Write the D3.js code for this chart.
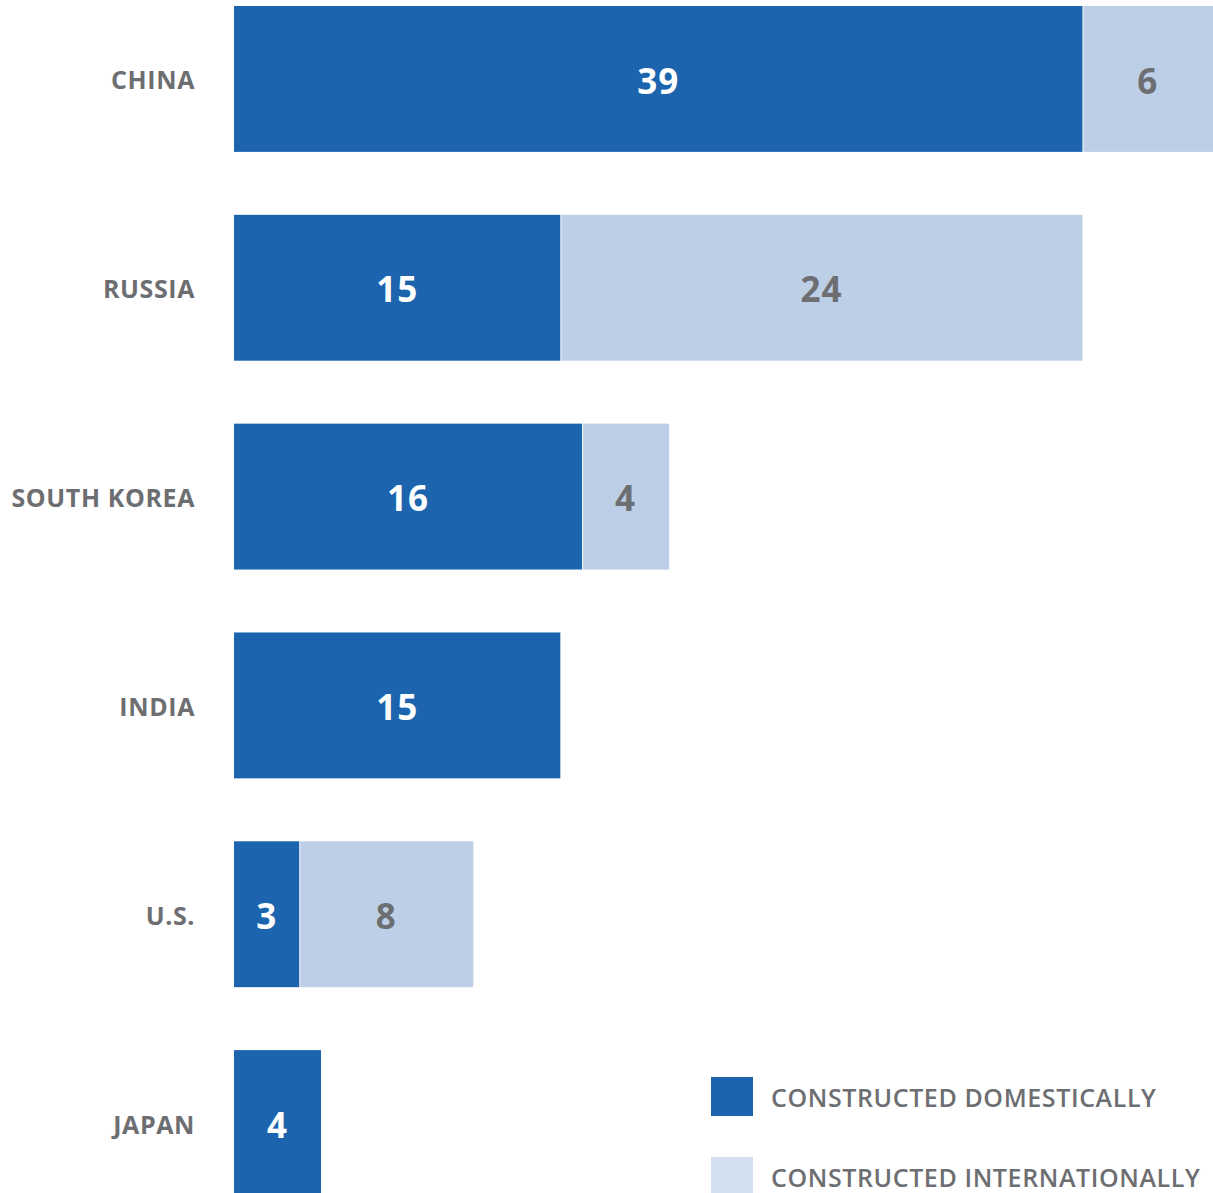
<!DOCTYPE html>
<html>
<head>
<meta charset="utf-8">
<script src="https://cdn.jsdelivr.net/npm/d3@7"></script>
<style>
  html, body { margin: 0; padding: 0; background: #ffffff; }
  svg { display: block; }
  text { font-family: "Open Sans", "Lato", sans-serif; }
</style>
</head>
<body>
<div id="chart"></div>
<script>
// Reactor counts by country, split by where they were built
const countries = ["CHINA", "RUSSIA", "SOUTH KOREA", "INDIA", "U.S.", "JAPAN"];
const domestic = [39, 15, 16, 15, 3, 4];
const international = [6, 24, 4, 0, 8, 0];
const legendLabels = ["CONSTRUCTED DOMESTICALLY", "CONSTRUCTED INTERNATIONALLY"];

const width = 1213, height = 1193;
const colDom = "#1c64ae", colIntl = "#bccfe6", colIntlKey = "#d3e0f0";
const grey = "#6d6e71";

const svg = d3.select("#chart").append("svg")
  .attr("width", width).attr("height", height);

const x = d3.scaleLinear().domain([0, 45]).range([234, 1213]);
const y = d3.scaleBand().domain(countries).range([6, 1196]).paddingInner(0.3014).paddingOuter(0);

const rows = countries.map((c, i) => ({ c, d: domestic[i], n: international[i] }));

const g = svg.append("g");

// domestic segments
g.selectAll("rect.dom").data(rows).join("rect")
  .attr("class", "dom")
  .attr("x", x(0))
  .attr("y", r => y(r.c))
  .attr("width", r => x(r.d) - x(0))
  .attr("height", y.bandwidth())
  .attr("fill", colDom);

// international segments, stacked after the domestic ones
g.selectAll("rect.intl").data(rows.filter(r => r.n > 0)).join("rect")
  .attr("class", "intl")
  .attr("x", r => x(r.d) + 1)
  .attr("y", r => y(r.c))
  .attr("width", r => x(r.d + r.n) - x(r.d) - 1)
  .attr("height", y.bandwidth())
  .attr("fill", colIntl);

// value labels
g.selectAll("text.vdom").data(rows).join("text")
  .attr("class", "vdom")
  .attr("x", r => (x(0) + x(r.d)) / 2)
  .attr("y", r => y(r.c) + y.bandwidth() / 2)
  .attr("dy", "0.42em")
  .attr("text-anchor", "middle")
  .attr("font-size", 35)
  .attr("font-weight", 700)
  .attr("letter-spacing", 1)
  .attr("fill", "#ffffff")
  .text(r => r.d);

g.selectAll("text.vintl").data(rows.filter(r => r.n > 0)).join("text")
  .attr("class", "vintl")
  .attr("x", r => (x(r.d) + x(r.d + r.n)) / 2)
  .attr("y", r => y(r.c) + y.bandwidth() / 2)
  .attr("dy", "0.42em")
  .attr("text-anchor", "middle")
  .attr("font-size", 35)
  .attr("font-weight", 700)
  .attr("letter-spacing", 1)
  .attr("fill", grey)
  .text(r => r.n);

// category axis labels
const yAxis = d3.axisLeft(y).tickSize(0).tickPadding(0);
const ax = svg.append("g").attr("transform", "translate(195,0)").call(yAxis);
ax.select(".domain").remove();
ax.selectAll("text")
  .attr("dy", "0.42em")
  .attr("font-size", 25)
  .attr("font-weight", 700)
  .attr("letter-spacing", 0.6)
  .attr("fill", grey)
  .style("font-family", "\"Open Sans\", sans-serif");

// legend
const legend = svg.append("g");
const keys = [
  { label: legendLabels[0], color: colDom, top: 1077 },
  { label: legendLabels[1], color: colIntlKey, top: 1157 }
];
legend.selectAll("rect").data(keys).join("rect")
  .attr("x", 711).attr("y", k => k.top)
  .attr("width", 42).attr("height", 39)
  .attr("fill", k => k.color);
legend.selectAll("text").data(keys).join("text")
  .attr("x", 771).attr("y", k => k.top + 30)
  .attr("font-size", 25)
  .attr("font-weight", 600)
  .attr("letter-spacing", 0.6)
  .attr("fill", grey)
  .text(k => k.label);
</script>
</body>
</html>
